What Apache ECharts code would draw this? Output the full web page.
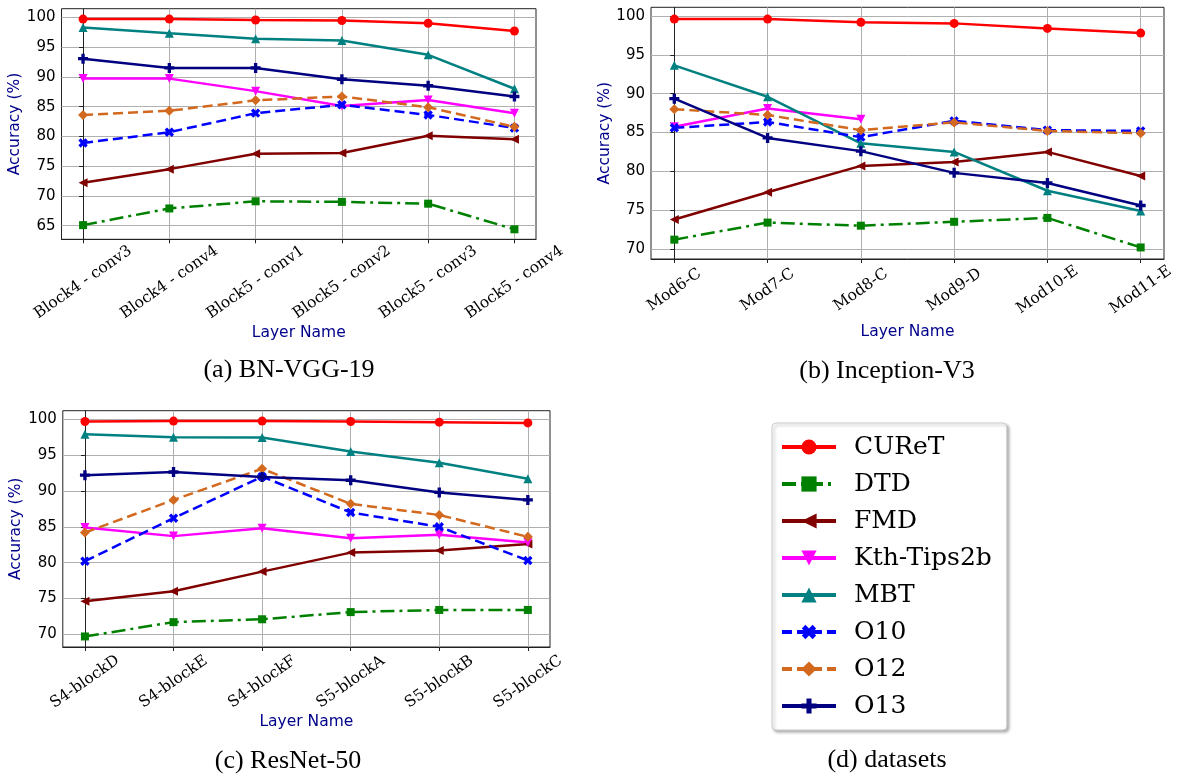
<!DOCTYPE html>
<html>
<head>
<meta charset="utf-8">
<script src="https://cdn.jsdelivr.net/npm/echarts@6/dist/echarts.min.js"></script>
<style>
html,body{margin:0;padding:0;background:#fff;}
#main{width:1185px;height:776px;}
</style>
</head>
<body>
<div id="main"></div>
<script>
// datasets (one line per dataset in each panel)
var names = ['CUReT', 'DTD', 'FMD', 'Kth-Tips2b', 'MBT', 'O10', 'O12', 'O13'];

// layer names on the x axis
var layersVgg = ['Block4 - conv3', 'Block4 - conv4', 'Block5 - conv1', 'Block5 - conv2', 'Block5 - conv3', 'Block5 - conv4'];
var layersInc = ['Mod6-C', 'Mod7-C', 'Mod8-C', 'Mod9-D', 'Mod10-E', 'Mod11-E'];
var layersRes = ['S4-blockD', 'S4-blockE', 'S4-blockF', 'S5-blockA', 'S5-blockB', 'S5-blockC'];

// y tick labels
var yTicksVgg = [65, 70, 75, 80, 85, 90, 95, 100];
var yTicksInc = [70, 75, 80, 85, 90, 95, 100];
var yTicksRes = [70, 75, 80, 85, 90, 95, 100];

// (a) BN-VGG-19
var vggCUReT = [99.7, 99.7, 99.55, 99.45, 99.0, 97.7];
var vggDTD   = [65.1, 67.9, 69.1, 69.0, 68.7, 64.4];
var vggFMD   = [72.2, 74.5, 77.1, 77.2, 80.1, 79.5];
var vggKth   = [89.7, 89.7, 87.6, 85.1, 86.1, 83.9];
var vggMBT   = [98.3, 97.3, 96.4, 96.1, 93.7, 88.0];
var vggO10   = [78.9, 80.7, 83.9, 85.3, 83.6, 81.4];
var vggO12   = [83.6, 84.3, 86.05, 86.7, 84.9, 81.6];
var vggO13   = [93.05, 91.5, 91.5, 89.6, 88.5, 86.7];

// (b) Inception-V3
var incCUReT = [99.6, 99.6, 99.2, 99.05, 98.4, 97.8];
var incDTD   = [71.2, 73.4, 73.0, 73.5, 74.0, 70.2];
var incFMD   = [73.8, 77.3, 80.7, 81.2, 82.5, 79.4];
var incKth   = [85.75, 88.1, 86.7, null, null, null];
var incMBT   = [93.65, 89.6, 83.6, 82.5, 77.5, 74.9];
var incO10   = [85.6, 86.35, 84.4, 86.5, 85.3, 85.2];
var incO12   = [88.0, 87.25, 85.3, 86.3, 85.2, 84.9];
var incO13   = [89.35, 84.3, 82.6, 79.8, 78.5, 75.6];

// (c) ResNet-50
var resCUReT = [99.7, 99.75, 99.75, 99.7, 99.6, 99.5];
var resDTD   = [69.7, 71.7, 72.1, 73.1, 73.4, 73.4];
var resFMD   = [74.6, 76.0, 78.75, 81.4, 81.7, 82.6];
var resKth   = [84.9, 83.7, 84.8, 83.4, 83.9, 82.8];
var resMBT   = [97.9, 97.5, 97.45, 95.5, 93.95, 91.7];
var resO10   = [80.2, 86.2, 92.0, 87.0, 85.0, 80.3];
var resO12   = [84.2, 88.75, 93.1, 88.2, 86.65, 83.6];
var resO13   = [92.2, 92.65, 91.95, 91.5, 89.8, 88.75];

// line look per dataset
var colors = ['#ff0000', '#008000', '#800000', '#ff00ff', '#008080', '#0000ff', '#d2691e', '#000080'];
var plusPath = 'path://M2,0H4V2H6V4H4V6H2V4H0V2H2Z';
var symbols = ['circle', 'rect', 'triangle', 'triangle', 'triangle', plusPath, 'diamond', plusPath];
var symRot = [0, 0, 90, 180, 0, 45, 0, 0];
var symSize = [9, 8, 9, 9, 9, 10, 10, 10];
var lineTypes = ['solid', [14, 5, 3, 5], 'solid', 'solid', 'solid', [10, 5], [10, 5], 'solid'];

var tickIdx = [0, 1, 2, 3, 4, 5];

function makeX(gi, labels, margin, nameGap){
	return {
		type: 'value', gridIndex: gi, min: -0.25, max: labels.length - 0.75,
		name: 'Layer Name', nameLocation: 'middle', nameGap: nameGap,
		nameTextStyle: {color: '#00008b', fontFamily: 'DejaVu Sans', fontSize: 15.5},
		axisLine: {show: true, onZero: false, lineStyle: {color: '#222', width: 1}},
		axisTick: {show: true, length: 4, customValues: tickIdx, lineStyle: {color: '#222'}},
		axisLabel: {
			customValues: tickIdx, rotate: 35, align: 'center', verticalAlign: 'middle',
			margin: margin, fontFamily: 'DejaVu Serif', fontSize: 15.5, color: '#000',
			formatter: function(v){ return labels[Math.round(v)]; }
		},
		splitLine: {show: true, lineStyle: {color: '#b0b0b0', width: 1}}
	};
}

function makeY(gi, ticks, min, max){
	return {
		type: 'value', gridIndex: gi, min: min, max: max,
		name: 'Accuracy (%)', nameLocation: 'middle', nameRotate: 90, nameGap: 36,
		nameTextStyle: {color: '#00008b', fontFamily: 'DejaVu Sans', fontSize: 15.5},
		axisLine: {show: true, lineStyle: {color: '#222', width: 1}},
		axisTick: {show: true, length: 4, customValues: ticks, lineStyle: {color: '#222'}},
		axisLabel: {customValues: ticks, margin: 6, fontFamily: 'DejaVu Sans', fontSize: 15, color: '#000'},
		splitLine: {show: true, lineStyle: {color: '#b0b0b0', width: 1}}
	};
}

function makeSeries(gi, lists){
	var out = [];
	for (var k = 0; k < names.length; k++) {
		var d = lists[k].map(function(v, i){ return [i, v == null ? '-' : v]; });
		out.push({
			name: names[k], type: 'line', xAxisIndex: gi, yAxisIndex: gi,
			data: d,
			symbol: symbols[k], symbolSize: symSize[k], symbolRotate: symRot[k],
			lineStyle: {color: colors[k], width: 2.5, type: lineTypes[k]},
			itemStyle: {color: colors[k]},
			emphasis: {disabled: true}
		});
	}
	return out;
}

function caption(text, x, y){
	return {
		type: 'text', x: x, y: y,
		style: {text: text, fill: '#000', font: '26px "Liberation Serif"', textAlign: 'center', textVerticalAlign: 'middle'}
	};
}

var series = []
	.concat(makeSeries(0, [vggCUReT, vggDTD, vggFMD, vggKth, vggMBT, vggO10, vggO12, vggO13]))
	.concat(makeSeries(1, [incCUReT, incDTD, incFMD, incKth, incMBT, incO10, incO12, incO13]))
	.concat(makeSeries(2, [resCUReT, resDTD, resFMD, resKth, resMBT, resO10, resO12, resO13]));

var gridStyle = {show: true, borderColor: '#222', borderWidth: 1, backgroundColor: '#fff', containLabel: false, outerBoundsMode: 'none'};

var option = {
	animation: false,
	backgroundColor: '#fff',
	grid: [
		echarts.util.extend({left: 61.5, top: 8.7, width: 474.5, height: 230.6}, gridStyle),
		echarts.util.extend({left: 651, top: 7.3, width: 513, height: 251.7}, gridStyle),
		echarts.util.extend({left: 62.8, top: 410.7, width: 487.2, height: 236.3}, gridStyle)
	],
	xAxis: [
		makeX(0, layersVgg, 43, 86),
		makeX(1, layersInc, 31, 65),
		makeX(2, layersRes, 35, 67)
	],
	yAxis: [
		makeY(0, yTicksVgg, 62.72, 101.44),
		makeY(1, yTicksInc, 68.71, 101.12),
		makeY(2, yTicksRes, 68.23, 101.2)
	],
	legend: {
		orient: 'vertical', left: 772, top: 423,
		data: names,
		itemWidth: 54, itemHeight: 19, itemGap: 9,
		padding: [10, 15, 10, 8],
		backgroundColor: '#fff', borderColor: '#cccccc', borderWidth: 1, borderRadius: 4,
		shadowColor: 'rgba(0,0,0,0.3)', shadowBlur: 3, shadowOffsetX: 2, shadowOffsetY: 2,
		textStyle: {fontFamily: 'DejaVu Serif', fontSize: 25, color: '#000', padding: [0, 0, 0, 13], lineHeight: 28},
		lineStyle: {width: 4},
		selectedMode: false
	},
	graphic: [
		caption('(a) BN-VGG-19', 289, 370),
		caption('(b) Inception-V3', 887, 371),
		caption('(c) ResNet-50', 288, 761),
		caption('(d) datasets', 887, 760)
	],
	series: series
};

var myChart = echarts.init(document.getElementById('main'));
myChart.setOption(option);
</script>
</body>
</html>
